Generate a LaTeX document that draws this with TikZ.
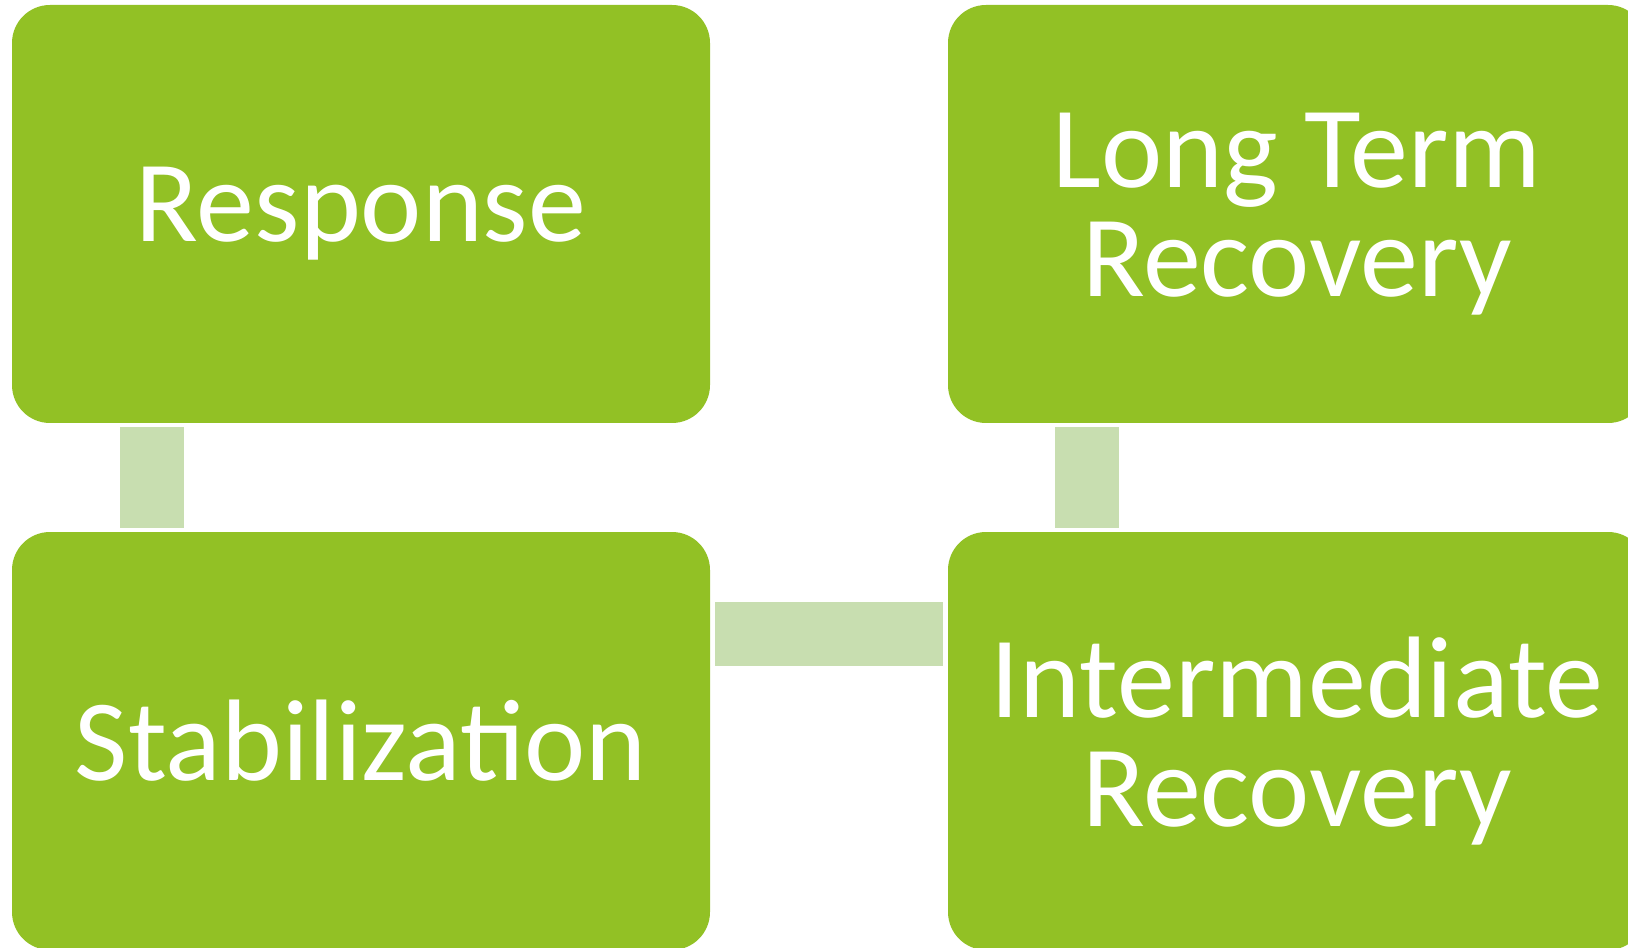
\documentclass[tikz,border=0pt]{standalone}
\usepackage{fontspec}
\setmainfont{Carlito}
\usetikzlibrary{calc}
\definecolor{boxgreen}{RGB}{146,193,37}
\definecolor{linkgreen}{RGB}{200,222,176}

\begin{document}
\begin{tikzpicture}[x=0.75pt,y=-0.75pt,
    phase/.style={fill=boxgreen,rounded corners=28.5pt,minimum width=523.5pt,minimum height=313.5pt,
      inner sep=0pt,text=white,align=center,font=\fontsize{87}{82}\selectfont},
    link/.style={draw=linkgreen,line width=48pt}]
  \clip (0,0) rectangle (1628,948);
  \node[phase] (resp) at (361,214) {Response};
  \node[phase] (longterm) at (1297,214) {Long Term\\Recovery};
  \node[phase] (stab) at (361,741) {Stabilization};
  \node[phase] (inter) at (1297,741) {Intermediate\\Recovery};
  % links between the phases
  \draw[link] ($(resp.south west)+(140,4)$) -- ($(stab.north west)+(140,-4)$);
  \draw[link] ($(stab.east)+(5,-107)$) -- ($(inter.west)+(-5,-107)$);
  \draw[link] ($(inter.north west)+(139,-4)$) -- ($(longterm.south west)+(139,4)$);
\end{tikzpicture}
\end{document}
